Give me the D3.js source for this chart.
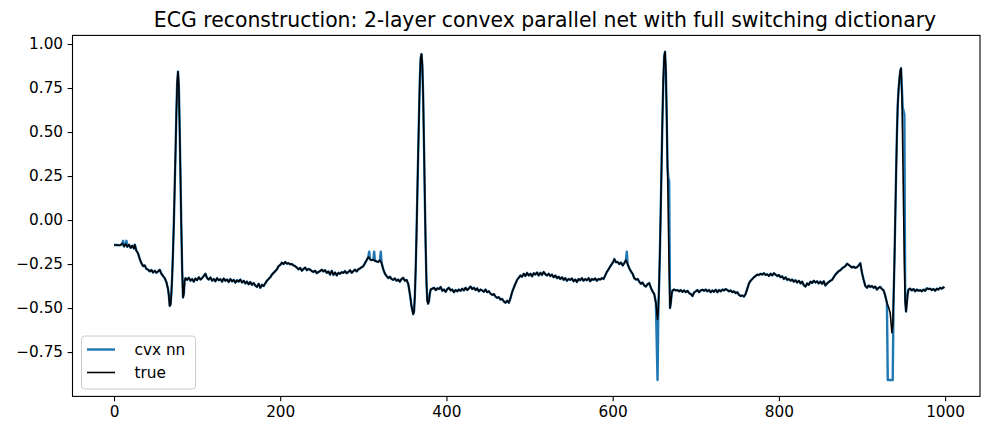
<!DOCTYPE html>
<html>
<head>
<meta charset="utf-8">
<script src="https://cdn.jsdelivr.net/npm/d3@7"></script>
<style>
  body { margin: 0; background: #fff; }
  svg { display: block; font-family: "DejaVu Sans", sans-serif; }
</style>
</head>
<body>
<div id="chart"></div>
<script>
// ECG samples: [sample index, value]
const trueSamples = [
  [0,-0.142],[3,-0.142],[6,-0.143],[8,-0.142],[10,-0.133],[12,-0.150],[14,-0.136],[16,-0.152],[18,-0.140],[20,-0.158],
  [22,-0.146],[24,-0.162],[25,-0.140],[27,-0.175],[29,-0.190],[31,-0.222],[33,-0.245],[35,-0.262],[37,-0.258],[39,-0.278],
  [41,-0.282],[43,-0.292],[45,-0.284],[47,-0.298],[49,-0.288],[51,-0.300],[53,-0.292],[55,-0.283],[57,-0.305],[59,-0.318],
  [61,-0.330],[63,-0.352],[65,-0.392],[66,-0.430],[67,-0.488],[68,-0.480],[69,-0.420],[70,-0.320],[71,-0.180],[72,-0.020],
  [73,0.180],[74,0.380],[75,0.600],[76,0.780],[77,0.843],[78,0.760],[79,0.520],[80,0.240],[81,-0.040],[82,-0.280],
  [83,-0.440],[84,-0.420],[85,-0.345],[86,-0.330],[88,-0.340],[90,-0.328],[92,-0.345],[94,-0.335],[96,-0.350],[98,-0.332],
  [100,-0.342],[102,-0.325],[104,-0.338],[106,-0.330],[108,-0.318],[110,-0.305],[112,-0.330],[114,-0.338],[116,-0.326],[118,-0.345],
  [120,-0.335],[122,-0.348],[124,-0.330],[126,-0.342],[128,-0.336],[130,-0.350],[132,-0.332],[134,-0.345],[136,-0.338],[138,-0.352],
  [140,-0.335],[142,-0.348],[144,-0.340],[146,-0.356],[148,-0.342],[150,-0.350],[152,-0.338],[154,-0.355],[156,-0.345],[158,-0.360],
  [160,-0.350],[162,-0.365],[164,-0.352],[166,-0.368],[168,-0.358],[170,-0.372],[172,-0.380],[174,-0.362],[176,-0.385],[178,-0.368],
  [180,-0.375],[182,-0.360],[184,-0.345],[186,-0.335],[188,-0.325],[190,-0.310],[192,-0.300],[194,-0.290],[196,-0.280],[198,-0.262],
  [200,-0.255],[202,-0.242],[204,-0.250],[206,-0.238],[208,-0.248],[210,-0.245],[212,-0.252],[214,-0.250],[216,-0.258],[218,-0.262],
  [220,-0.270],[222,-0.280],[224,-0.272],[226,-0.288],[228,-0.278],[230,-0.270],[232,-0.285],[234,-0.278],[236,-0.282],[238,-0.290],
  [240,-0.295],[242,-0.288],[244,-0.302],[246,-0.295],[248,-0.290],[250,-0.282],[252,-0.292],[254,-0.285],[256,-0.300],[258,-0.292],
  [260,-0.310],[262,-0.288],[264,-0.312],[266,-0.298],[268,-0.315],[270,-0.300],[272,-0.305],[274,-0.296],[276,-0.300],[278,-0.290],
  [280,-0.302],[282,-0.295],[284,-0.285],[286,-0.300],[288,-0.290],[290,-0.282],[292,-0.292],[294,-0.280],[296,-0.275],[298,-0.268],
  [300,-0.262],[302,-0.245],[304,-0.228],[306,-0.210],[308,-0.222],[310,-0.228],[312,-0.225],[314,-0.232],[316,-0.235],[318,-0.238],
  [320,-0.228],[322,-0.245],[324,-0.280],[326,-0.305],[328,-0.318],[330,-0.330],[332,-0.322],[334,-0.335],[336,-0.340],[338,-0.332],
  [340,-0.345],[342,-0.338],[344,-0.350],[346,-0.335],[348,-0.328],[350,-0.345],[352,-0.340],[354,-0.362],[356,-0.420],[358,-0.490],
  [360,-0.535],[361,-0.520],[362,-0.430],[363,-0.280],[364,-0.080],[365,0.150],[366,0.380],[367,0.600],[368,0.800],[369,0.920],
  [370,0.943],[371,0.880],[372,0.700],[373,0.420],[374,0.120],[375,-0.150],[376,-0.360],[377,-0.460],[378,-0.475],[379,-0.460],
  [380,-0.420],[381,-0.395],[383,-0.390],[385,-0.385],[387,-0.398],[389,-0.388],[391,-0.392],[393,-0.380],[395,-0.402],[397,-0.395],
  [399,-0.408],[401,-0.392],[403,-0.385],[405,-0.400],[407,-0.395],[409,-0.410],[411,-0.398],[413,-0.405],[415,-0.395],[417,-0.402],
  [419,-0.390],[421,-0.400],[423,-0.385],[425,-0.398],[427,-0.388],[429,-0.378],[431,-0.392],[433,-0.385],[435,-0.398],[437,-0.388],
  [439,-0.405],[441,-0.395],[443,-0.400],[445,-0.408],[447,-0.395],[449,-0.410],[451,-0.405],[453,-0.418],[455,-0.425],[457,-0.420],
  [459,-0.435],[461,-0.442],[463,-0.438],[465,-0.452],[467,-0.448],[469,-0.462],[471,-0.470],[473,-0.458],[475,-0.470],[477,-0.445],
  [479,-0.410],[481,-0.385],[483,-0.362],[485,-0.340],[487,-0.328],[489,-0.315],[491,-0.322],[493,-0.305],[495,-0.318],[497,-0.300],
  [499,-0.315],[501,-0.305],[503,-0.320],[505,-0.302],[507,-0.310],[509,-0.298],[511,-0.315],[513,-0.300],[515,-0.312],[517,-0.295],
  [519,-0.308],[521,-0.315],[523,-0.305],[525,-0.318],[527,-0.310],[529,-0.325],[531,-0.315],[533,-0.330],[535,-0.322],[537,-0.335],
  [539,-0.325],[541,-0.340],[543,-0.330],[545,-0.345],[547,-0.335],[549,-0.340],[551,-0.332],[553,-0.348],[555,-0.338],[557,-0.352],
  [559,-0.335],[561,-0.342],[563,-0.330],[565,-0.345],[567,-0.335],[569,-0.342],[571,-0.330],[573,-0.348],[575,-0.335],[577,-0.340],
  [579,-0.332],[581,-0.345],[583,-0.335],[585,-0.338],[587,-0.330],[589,-0.335],[591,-0.315],[593,-0.295],[595,-0.280],[597,-0.265],
  [599,-0.250],[601,-0.235],[602,-0.222],[604,-0.240],[606,-0.238],[608,-0.250],[610,-0.242],[612,-0.258],[614,-0.245],[616,-0.228],
  [618,-0.250],[620,-0.275],[622,-0.292],[624,-0.305],[626,-0.330],[628,-0.338],[630,-0.335],[632,-0.350],[634,-0.362],[636,-0.355],
  [638,-0.372],[640,-0.378],[642,-0.365],[644,-0.358],[646,-0.385],[648,-0.405],[650,-0.420],[652,-0.470],[654,-0.565],[655,-0.500],
  [656,-0.350],[657,-0.150],[658,0.100],[659,0.350],[660,0.600],[661,0.800],[662,0.930],[663,0.956],[664,0.850],[665,0.600],
  [666,0.300],[667,0.000],[668,-0.300],[669,-0.500],[670,-0.470],[671,-0.420],[672,-0.400],[674,-0.395],[676,-0.400],[678,-0.398],
  [680,-0.405],[682,-0.398],[684,-0.408],[686,-0.400],[688,-0.410],[690,-0.402],[692,-0.415],[694,-0.420],[696,-0.432],[698,-0.412],
  [700,-0.405],[702,-0.398],[704,-0.410],[706,-0.400],[708,-0.396],[710,-0.402],[712,-0.395],[714,-0.405],[716,-0.398],[718,-0.410],
  [720,-0.400],[722,-0.408],[724,-0.396],[726,-0.410],[728,-0.398],[730,-0.405],[732,-0.395],[734,-0.400],[736,-0.392],[738,-0.398],
  [740,-0.405],[742,-0.400],[744,-0.410],[746,-0.405],[748,-0.415],[750,-0.410],[752,-0.425],[754,-0.432],[756,-0.428],[758,-0.435],
  [760,-0.420],[762,-0.390],[764,-0.360],[766,-0.345],[768,-0.335],[770,-0.325],[772,-0.318],[774,-0.310],[776,-0.312],[778,-0.305],
  [780,-0.310],[782,-0.302],[784,-0.312],[786,-0.308],[788,-0.318],[790,-0.305],[792,-0.315],[794,-0.302],[796,-0.310],[798,-0.318],
  [800,-0.312],[802,-0.325],[804,-0.320],[806,-0.335],[808,-0.325],[810,-0.340],[812,-0.335],[814,-0.345],[816,-0.338],[818,-0.350],
  [820,-0.342],[822,-0.355],[824,-0.345],[826,-0.360],[828,-0.350],[830,-0.370],[832,-0.378],[834,-0.360],[836,-0.368],[838,-0.350],
  [840,-0.358],[842,-0.345],[844,-0.355],[846,-0.348],[848,-0.360],[850,-0.350],[852,-0.362],[854,-0.348],[856,-0.372],[858,-0.360],
  [860,-0.352],[862,-0.345],[864,-0.340],[866,-0.325],[868,-0.310],[870,-0.300],[872,-0.290],[874,-0.285],[876,-0.275],[878,-0.268],
  [880,-0.262],[882,-0.248],[884,-0.255],[886,-0.262],[888,-0.270],[890,-0.265],[892,-0.272],[894,-0.268],[896,-0.258],[898,-0.245],
  [900,-0.300],[902,-0.340],[904,-0.375],[906,-0.385],[908,-0.372],[910,-0.380],[912,-0.375],[914,-0.385],[916,-0.378],[918,-0.395],
  [920,-0.385],[922,-0.380],[924,-0.392],[926,-0.400],[928,-0.430],[930,-0.470],[932,-0.495],[934,-0.530],[936,-0.640],[937,-0.600],
  [938,-0.450],[939,-0.250],[940,0.000],[941,0.250],[942,0.480],[943,0.650],[944,0.740],[945,0.800],[946,0.845],[947,0.862],
  [948,0.720],[949,0.420],[950,0.080],[951,-0.250],[952,-0.460],[953,-0.520],[954,-0.470],[955,-0.420],[956,-0.395],[958,-0.390],
  [960,-0.400],[962,-0.392],[964,-0.405],[966,-0.395],[968,-0.402],[970,-0.398],[972,-0.405],[974,-0.395],[976,-0.402],[978,-0.388],
  [980,-0.392],[982,-0.390],[984,-0.398],[986,-0.392],[988,-0.402],[990,-0.390],[992,-0.395],[994,-0.385],[996,-0.390],[998,-0.382],
  [999,-0.388]
];

// where the reconstruction visibly departs from the true signal
const cvxDepartures = [
  [11,-0.118],[13,-0.142],[15,-0.118],
  [307,-0.180],[309,-0.228],[313,-0.180],[315,-0.232],[321,-0.180],
  [617,-0.180],
  [654,-0.909],[667,0.240],[668,0.220],
  [931,-0.909],[932,-0.909],[934,-0.909],[936,-0.909],[937,-0.909],
  [948,0.750],[949,0.640],[950,0.620],[951,0.600]
];

const xTicks = [0, 200, 400, 600, 800, 1000];
const yTicks = [-0.75, -0.50, -0.25, 0.00, 0.25, 0.50, 0.75, 1.00];
const seriesNames = ["cvx nn", "true"];
const seriesColors = ["#1f77b4", "#000000"];

// reconstruction = true samples, with the departures swapped in
const cvxMap = new Map(trueSamples.map(d => [d[0], d[1]]));
cvxDepartures.forEach(d => cvxMap.set(d[0], d[1]));
const cvxSamples = Array.from(cvxMap.entries()).sort((a, b) => a[0] - b[0]);

const W = 981, H = 428;
const plot = {left: 72.5, right: 980, top: 35.4, bottom: 396.4};

const svg = d3.select("#chart").append("svg")
    .attr("width", W)
    .attr("height", H);

const x = d3.scaleLinear().domain([-49.95, 1042]).range([plot.left, plot.right]);
const y = d3.scaleLinear().domain([-1.002, 1.049]).range([plot.bottom, plot.top]);

const line = d3.line()
    .x(d => x(d[0]))
    .y(d => y(d[1]));

svg.append("path")
    .datum(cvxSamples)
    .attr("fill", "none")
    .attr("stroke", seriesColors[0])
    .attr("stroke-width", 2.4)
    .attr("stroke-linejoin", "round")
    .attr("d", line);

svg.append("path")
    .datum(trueSamples)
    .attr("fill", "none")
    .attr("stroke", seriesColors[1])
    .attr("stroke-width", 1.6)
    .attr("stroke-linejoin", "round")
    .attr("d", line);

// axes
const minus = s => s.replace("-", "\u2212");

const xAxis = svg.append("g")
    .attr("transform", `translate(0,${plot.bottom})`)
    .call(d3.axisBottom(x).tickValues(xTicks).tickSize(4.9).tickPadding(4.5).tickFormat(d3.format("d")));

const yAxis = svg.append("g")
    .attr("transform", `translate(${plot.left},0)`)
    .call(d3.axisLeft(y).tickValues(yTicks).tickSize(4.9).tickPadding(4.5).tickFormat(d => minus(d3.format(".2f")(d))));

[xAxis, yAxis].forEach(g => {
    g.select(".domain").remove();
    g.selectAll(".tick line").attr("stroke", "#000").attr("stroke-width", 1.1);
    g.selectAll(".tick text").attr("fill", "#000").style("font-size", "15.3px")
        .style("font-family", "'DejaVu Sans', sans-serif");
});

// frame
svg.append("rect")
    .attr("x", plot.left)
    .attr("y", plot.top)
    .attr("width", plot.right - plot.left)
    .attr("height", plot.bottom - plot.top)
    .attr("fill", "none")
    .attr("stroke", "#000")
    .attr("stroke-width", 1.1);

// title
svg.append("text")
    .attr("x", 545)
    .attr("y", 27)
    .attr("text-anchor", "middle")
    .style("font-size", "20.4px")
    .text("ECG reconstruction: 2-layer convex parallel net with full switching dictionary");

// legend
const legend = svg.append("g").attr("transform", "translate(81.5,336)");
legend.append("rect")
    .attr("width", 114)
    .attr("height", 53)
    .attr("rx", 3)
    .attr("fill", "#fff")
    .attr("fill-opacity", 0.8)
    .attr("stroke", "#cccccc")
    .attr("stroke-width", 1);

seriesNames.forEach((name, i) => {
    const ly = 13.5 + i * 23;
    legend.append("line")
        .attr("x1", 5.5).attr("x2", 33.5)
        .attr("y1", ly).attr("y2", ly)
        .attr("stroke", seriesColors[i])
        .attr("stroke-width", i === 0 ? 2.4 : 1.6);
    legend.append("text")
        .attr("x", 53)
        .attr("y", ly + 5.5)
        .style("font-size", "15.3px")
        .text(name);
});
</script>
</body>
</html>
